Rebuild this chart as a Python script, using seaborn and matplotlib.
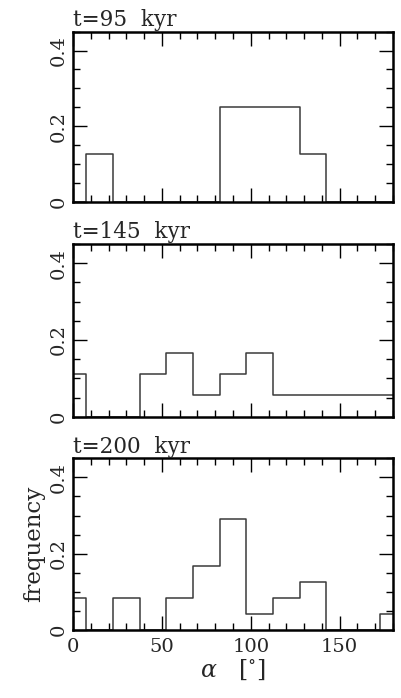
import numpy as np
import pandas as pd
import matplotlib
matplotlib.use("Agg")
import matplotlib.pyplot as plt
import seaborn as sns
from matplotlib.ticker import MultipleLocator

# bin centres (degrees)
centers = [0, 15, 30, 45, 60, 75, 90, 105, 120, 135, 150, 165, 180]
freq_95 = [0, 0.125, 0, 0, 0, 0, 0.25, 0.25, 0.25, 0.125, 0, 0, 0]
freq_145 = [2/18, 0, 0, 2/18, 3/18, 1/18, 2/18, 3/18, 1/18, 1/18, 1/18, 1/18, 1/18]
freq_200 = [2/24, 0, 2/24, 0, 2/24, 4/24, 7/24, 1/24, 2/24, 3/24, 0, 0, 1/24]
titles = ["t=95  kyr", "t=145  kyr", "t=200  kyr"]
series = [freq_95, freq_145, freq_200]

sns.set_theme(style="white")
plt.rcParams['font.family'] = ['DejaVu Serif']
plt.rcParams['mathtext.fontset'] = 'dejavuserif'

fig = plt.figure(figsize=(4.01, 6.98), dpi=100)
W, H = 401, 698
boxes = [(31.7, 201.7), (244, 416.7), (458.3, 630)]
left, right = 73, 393
edges = [float(e) for e in np.arange(-7.5, 180 + 15, 15)]

for i, ((top, bot), freq, title) in enumerate(zip(boxes, series, titles)):
    ax = fig.add_axes([left / W, 1 - bot / H, (right - left) / W, (bot - top) / H])
    df = pd.DataFrame({"alpha": centers, "f": freq})
    sns.histplot(data=df, x="alpha", weights="f", bins=edges, element="step",
                 fill=False, color="#3a3a3a", linewidth=1.1, ax=ax)
    ax.set_xlim(0, 180)
    ax.set_ylim(0, 0.45)
    ax.xaxis.set_major_locator(MultipleLocator(50))
    ax.xaxis.set_minor_locator(MultipleLocator(10))
    ax.yaxis.set_minor_locator(MultipleLocator(0.05))
    ax.set_yticks([0, 0.2, 0.4])
    ax.set_yticklabels(["0", "0.2", "0.4"], rotation=90, va="center")
    ax.tick_params(which="both", direction="in", top=True, right=True,
                   bottom=True, left=True, color="black", labelsize=14)
    ax.tick_params(which="major", length=10, width=1)
    ax.tick_params(which="minor", length=5, width=1)
    ax.tick_params(axis="x", pad=6)
    ax.tick_params(axis="y", pad=4)
    for s in ax.spines.values():
        s.set_color("black")
        s.set_linewidth(1.8)
    ax.set_title(title, loc="left", fontsize=15.5, pad=4)
    ax.set_ylabel("")
    if i < 2:
        ax.set_xticklabels([])
        ax.set_xlabel("")
    else:
        ax.set_xticks([0, 50, 100, 150])
        ax.set_xticklabels(["0", "50", "100", "150"])
        ax.set_xlabel(r"$\alpha$   [$^{\circ}$]", fontsize=17, labelpad=1)
        ax.set_ylabel("frequency", fontsize=16.5, labelpad=3)

fig.savefig("out.png", dpi=100)
